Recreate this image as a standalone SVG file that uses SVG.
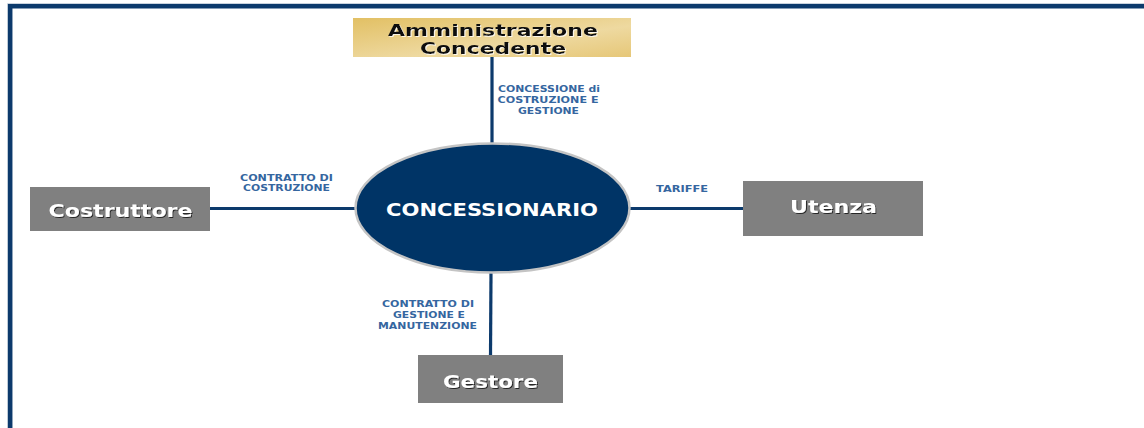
<svg xmlns="http://www.w3.org/2000/svg" width="1144" height="428" viewBox="0 0 1144 428">
<defs>
<linearGradient id="gold" x1="0" y1="0" x2="1" y2="1">
<stop offset="0" stop-color="#e2c064"/>
<stop offset="0.6" stop-color="#eed9a0"/>
<stop offset="1" stop-color="#e6c778"/>
</linearGradient>
<filter id="sh" x="-10%" y="-30%" width="120%" height="160%">
<feDropShadow dx="1" dy="1" stdDeviation="0.6" flood-color="#000" flood-opacity="0.7"/>
</filter>
<filter id="shw" x="-10%" y="-30%" width="120%" height="160%">
<feDropShadow dx="1" dy="1" stdDeviation="0.5" flood-color="#fff" flood-opacity="0.8"/>
</filter>
</defs>
<style>
.frame{fill:none;stroke:#0c3a6c;stroke-width:4.5}
.frame2{fill:none;stroke:#c9d3de;stroke-width:1}
.conn{stroke:#0c3a6c;stroke-width:3.2;fill:none}
.gbox{fill:#808080}
.gtxt{font-family:"DejaVu Sans",Verdana,sans-serif;font-weight:bold;font-size:18px;fill:#fff;text-anchor:middle}
.lbl{font-family:"DejaVu Sans",Verdana,sans-serif;font-weight:bold;font-size:8.4px;fill:#3566a0;text-anchor:middle}
.ttxt{font-family:"DejaVu Sans",Verdana,sans-serif;font-weight:bold;font-size:16px;fill:#111;text-anchor:middle}
</style>
<rect width="1144" height="428" fill="#fff"/>
<path class="frame2" d="M7.5,430 V3.5 H1146"/>
<path class="frame" d="M10.2,430 V6.2 H1146"/>
<g id="connectors">
<line class="conn" x1="492" y1="57" x2="492" y2="144"/>
<line class="conn" x1="210" y1="208.5" x2="356" y2="208.5"/>
<line class="conn" x1="629" y1="208.5" x2="743" y2="208.5"/>
<line class="conn" x1="491" y1="272" x2="490.5" y2="355"/>
<text class="lbl" x="549" y="92" textLength="102" lengthAdjust="spacingAndGlyphs">CONCESSIONE di</text>
<text class="lbl" x="548" y="103" textLength="101" lengthAdjust="spacingAndGlyphs">COSTRUZIONE E</text>
<text class="lbl" x="548.5" y="114" textLength="61" lengthAdjust="spacingAndGlyphs">GESTIONE</text>
<text class="lbl" x="286.5" y="181" textLength="93" lengthAdjust="spacingAndGlyphs">CONTRATTO DI</text>
<text class="lbl" x="286.5" y="191" textLength="87" lengthAdjust="spacingAndGlyphs">COSTRUZIONE</text>
<text class="lbl" x="682" y="192" textLength="52" lengthAdjust="spacingAndGlyphs">TARIFFE</text>
<text class="lbl" x="428" y="307" textLength="92" lengthAdjust="spacingAndGlyphs">CONTRATTO DI</text>
<text class="lbl" x="429" y="318" textLength="72" lengthAdjust="spacingAndGlyphs">GESTIONE E</text>
<text class="lbl" x="427.5" y="329" textLength="99" lengthAdjust="spacingAndGlyphs">MANUTENZIONE</text>
</g>
<g id="amministrazione">
<rect x="353" y="18" width="278" height="39" fill="url(#gold)"/>
<text class="ttxt" x="493" y="35.5" filter="url(#shw)" textLength="210" lengthAdjust="spacingAndGlyphs">Amministrazione</text>
<text class="ttxt" x="493" y="54" filter="url(#shw)" textLength="146" lengthAdjust="spacingAndGlyphs">Concedente</text>
</g>
<g id="concessionario">
<ellipse cx="492.5" cy="208" rx="137" ry="64.5" fill="#003466" stroke="#c4c4c4" stroke-width="2.5"/>
<text x="492" y="215.5" font-family="'DejaVu Sans',Verdana,sans-serif" font-weight="bold" font-size="17.5" fill="#fff" text-anchor="middle" textLength="212" lengthAdjust="spacingAndGlyphs">CONCESSIONARIO</text>
</g>
<g id="costruttore">
<rect class="gbox" x="30" y="187" width="180" height="44"/>
<text class="gtxt" x="120.5" y="217" filter="url(#sh)" textLength="144" lengthAdjust="spacingAndGlyphs">Costruttore</text>
</g>
<g id="utenza">
<rect class="gbox" x="743" y="181" width="180" height="55"/>
<text class="gtxt" x="833.5" y="212.5" filter="url(#sh)" textLength="87" lengthAdjust="spacingAndGlyphs">Utenza</text>
</g>
<g id="gestore">
<rect class="gbox" x="418" y="355" width="145" height="48"/>
<text class="gtxt" x="490.5" y="387.5" filter="url(#sh)" textLength="95" lengthAdjust="spacingAndGlyphs">Gestore</text>
</g>
</svg>
